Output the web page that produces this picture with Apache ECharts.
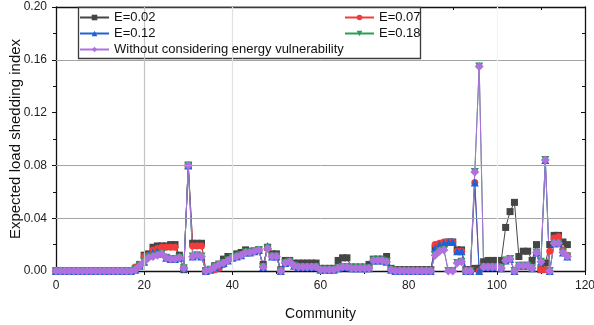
<!DOCTYPE html>
<html>
<head>
<meta charset="utf-8">
<script src="https://cdn.jsdelivr.net/npm/echarts@6/dist/echarts.min.js"></script>
<style>
  html, body { margin: 0; padding: 0; background: #fff; }
  #chart { width: 594px; height: 325px; }
</style>
</head>
<body>
<div id="chart"></div>
<script>
// Expected load shedding index per community, for several energy-vulnerability weights
const community = Array.from({ length: 117 }, (_, i) => i);

const e002 = [
  0,0,0,0,0,0,0,0,0,0, 0,0,0,0,0,0,0,0,0.002,0.005,
  0.012,0.013,0.018,0.019,0.019,0.019,0.020,0.020,0.012,0.001,
  0.080,0.021,0.021,0.021,0.000,0.001,0.004,0.005,0.009,0.011,
  0.011,0.013,0.014,0.016,0.015,0.015,0.016,0.005,0.018,0.013,
  0.013,0.001,0.008,0.008,0.006,0.006,0.006,0.006,0.006,0.006,
  0.002,0.002,0.002,0.002,0.008,0.010,0.010,0.003,0.003,0.003,
  0.003,0.005,0.009,0.009,0.009,0.011,0.002,0.001,0.001,0.001,
  0.001,0.001,0.001,0.001,0.001,0.001,0.017,0.020,0.021,0.022,
  0.022,0.016,0.016,0.001,0.001,0.002,0.002,0.007,0.008,0.008,
  0.008,0.008,0.033,0.045,0.052,0.011,0.015,0.015,0.008,0.020,
  0.001,0.006,0.020,0.027,0.027,0.022,0.020
];

const e007 = [
  0,0,0,0,0,0,0,0,0,0, 0,0,0,0,0,0,0,0,0.003,0.005,
  0.011,0.012,0.016,0.017,0.018,0.018,0.018,0.018,0.010,0.002,
  0.080,0.019,0.019,0.019,0.000,0.001,0.001,0.002,0.005,0.008,
  0.010,0.011,0.012,0.014,0.014,0.015,0.016,0.003,0.017,0.011,
  0.011,0.000,0.006,0.007,0.004,0.003,0.003,0.003,0.003,0.003,
  0.001,0.001,0.001,0.001,0.002,0.003,0.003,0.002,0.002,0.002,
  0.002,0.002,0.008,0.008,0.008,0.007,0.001,0.000,0.000,0.000,
  0.000,0.000,0.000,0.000,0.000,0.000,0.020,0.021,0.022,0.022,
  0.022,0.015,0.015,0.000,0.000,0.067,0.000,0.003,0.003,0.003,
  0.003,0.002,0.008,0.009,0.000,0.004,0.004,0.004,0.002,0.014,
  0.001,0.001,0.015,0.025,0.026,0.016,0.012
];

const e012 = [
  0,0,0,0,0,0,0,0,0,0, 0,0,0,0,0,0,0,0,0.001,0.004,
  0.007,0.012,0.014,0.015,0.013,0.010,0.009,0.009,0.010,0.002,
  0.080,0.011,0.012,0.011,0.000,0.001,0.003,0.005,0.006,0.008,
  0.010,0.011,0.012,0.014,0.014,0.015,0.016,0.003,0.019,0.011,
  0.011,0.000,0.006,0.007,0.004,0.003,0.003,0.003,0.003,0.003,
  0.001,0.001,0.001,0.001,0.002,0.003,0.003,0.002,0.002,0.002,
  0.002,0.002,0.008,0.008,0.008,0.007,0.001,0.000,0.000,0.000,
  0.000,0.000,0.000,0.000,0.000,0.000,0.017,0.020,0.021,0.022,
  0.022,0.015,0.015,0.000,0.000,0.067,0.000,0.003,0.003,0.003,
  0.003,0.002,0.008,0.009,0.000,0.004,0.004,0.004,0.002,0.014,
  0.007,0.084,0.000,0.021,0.021,0.014,0.011
];

const e018 = [
  0,0,0,0,0,0,0,0,0,0, 0,0,0,0,0,0,0,0,0.001,0.004,
  0.007,0.010,0.011,0.012,0.013,0.010,0.009,0.009,0.010,0.002,
  0.080,0.011,0.012,0.011,0.000,0.001,0.003,0.005,0.006,0.008,
  0.010,0.011,0.012,0.014,0.014,0.015,0.016,0.003,0.017,0.011,
  0.011,0.000,0.006,0.007,0.004,0.003,0.003,0.003,0.003,0.003,
  0.001,0.001,0.001,0.001,0.002,0.003,0.003,0.002,0.002,0.002,
  0.002,0.002,0.008,0.008,0.008,0.007,0.001,0.000,0.000,0.000,
  0.000,0.000,0.000,0.000,0.000,0.000,0.012,0.015,0.016,0.000,
  0.000,0.006,0.007,0.000,0.000,0.075,0.155,0.003,0.003,0.003,
  0.003,0.002,0.008,0.009,0.000,0.004,0.004,0.004,0.002,0.014,
  0.007,0.084,0.000,0.021,0.021,0.014,0.011
];

const noVulnerability = [
  0,0,0,0,0,0,0,0,0,0, 0,0,0,0,0,0,0,0,0.001,0.004,
  0.007,0.010,0.011,0.012,0.013,0.010,0.009,0.009,0.010,0.002,
  0.080,0.011,0.012,0.011,0.000,0.001,0.003,0.005,0.006,0.008,
  0.010,0.011,0.012,0.014,0.014,0.015,0.016,0.003,0.017,0.011,
  0.011,0.000,0.006,0.007,0.004,0.003,0.003,0.003,0.003,0.003,
  0.001,0.001,0.001,0.001,0.002,0.003,0.003,0.002,0.002,0.002,
  0.002,0.002,0.008,0.008,0.008,0.007,0.001,0.000,0.000,0.000,
  0.000,0.000,0.000,0.000,0.000,0.000,0.012,0.015,0.016,0.000,
  0.000,0.006,0.007,0.000,0.000,0.075,0.155,0.003,0.003,0.003,
  0.003,0.002,0.008,0.009,0.000,0.004,0.004,0.004,0.002,0.014,
  0.007,0.084,0.000,0.021,0.021,0.014,0.011
];

const seriesNames = ['E=0.02', 'E=0.07', 'E=0.12', 'E=0.18', 'Without considering energy vulnerability'];
const yTicks = [0, 0.04, 0.08, 0.12, 0.16, 0.20];
const xTicks = [0, 20, 40, 60, 80, 100, 120];

// partial reference lines inside the plot
const hGridValues = [0.04, 0.08, 0.16];
const vGridValues = [20, 40, 100];

const FONT = 'Liberation Sans, Arial, sans-serif';

function pairs(arr) { return arr.map((v, i) => [community[i], v]); }

function lineSeries(name, values, color, symbol, size, rotate) {
  return {
    name, type: 'line', data: pairs(values),
    symbol, symbolSize: size, symbolRotate: rotate || 0,
    showAllSymbol: true,
    lineStyle: { color, width: 1 },
    itemStyle: { color, borderWidth: 0 },
    emphasis: { disabled: true },
    animation: false, z: 3
  };
}

const vGridColors = ['#c4c4c4', '#e2e2e2', '#f4f4f4'];

const legendCommon = {
  orient: 'vertical', top: 10, padding: 0, itemGap: 1,
  itemWidth: 29, itemHeight: 7, z: 10, selectedMode: false,
  textStyle: { fontSize: 13, color: '#111', lineHeight: 15, fontFamily: FONT }
};

const option = {
  backgroundColor: '#ffffff',
  animation: false,
  textStyle: { fontFamily: FONT },
  grid: { left: 56, right: 9, top: 7, bottom: 54, containLabel: false, outerBoundsMode: 'none' },
  xAxis: [
    {
      type: 'value', min: xTicks[0], max: xTicks[xTicks.length - 1], interval: 20,
      name: 'Community', nameLocation: 'middle', nameGap: 36, nameMoveOverlap: false,
      nameTextStyle: { fontSize: 14, color: '#111', fontFamily: FONT },
      axisLine: { show: true, onZero: false, lineStyle: { color: '#111', width: 1.3 } },
      axisTick: { show: true, inside: false, length: 4, lineStyle: { color: '#111' } },
      minorTick: { show: true, splitNumber: 2, length: 3, lineStyle: { color: '#111' } },
      axisLabel: { fontSize: 12, color: '#222', margin: 9, fontFamily: FONT },
      splitLine: { show: false }
    },
    {
      type: 'value', position: 'top', min: 0, max: 120, interval: 20,
      axisLine: { show: true, onZero: false, lineStyle: { color: '#111', width: 1.3 } },
      axisTick: { show: true, inside: true, length: 4, lineStyle: { color: '#111' } },
      minorTick: { show: true, splitNumber: 2, length: 3, lineStyle: { color: '#111' } },
      axisLabel: { show: false }, splitLine: { show: false }
    }
  ],
  yAxis: [
    {
      type: 'value', min: yTicks[0], max: yTicks[yTicks.length - 1], interval: 0.04,
      name: 'Expected load shedding index', nameLocation: 'middle', nameGap: 33, nameMoveOverlap: false,
      nameTextStyle: { fontSize: 15, color: '#111', fontFamily: FONT },
      axisLine: { show: true, onZero: false, lineStyle: { color: '#111', width: 1.3 } },
      axisTick: { show: true, inside: false, length: 4, lineStyle: { color: '#111' } },
      minorTick: { show: true, splitNumber: 2, length: 3, lineStyle: { color: '#111' } },
      axisLabel: { fontSize: 12, color: '#222', margin: 9, fontFamily: FONT,
        formatter: v => v.toFixed(2) },
      splitLine: { show: false }
    },
    {
      type: 'value', position: 'right', min: 0, max: 0.2, interval: 0.04,
      axisLine: { show: true, onZero: false, lineStyle: { color: '#111', width: 1.3 } },
      axisTick: { show: true, inside: true, length: 4, lineStyle: { color: '#111' } },
      minorTick: { show: true, splitNumber: 2, length: 3, lineStyle: { color: '#111' } },
      axisLabel: { show: false }, splitLine: { show: false }
    }
  ],
  graphic: [
    {
      type: 'rect', z: 3, silent: true,
      shape: { x: 78.5, y: 7.5, width: 342, height: 51 },
      style: { fill: '#ffffff', stroke: '#3a3a3a', lineWidth: 1.3 }
    }
  ],
  legend: [
    Object.assign({ data: [seriesNames[0], seriesNames[2], seriesNames[4]], left: 79 }, legendCommon),
    Object.assign({ data: [seriesNames[1], seriesNames[3]], left: 344 }, legendCommon)
  ],
  series: [
    {
      type: 'line', data: [], silent: true, z: 1,
      markLine: {
        silent: true, symbol: 'none', label: { show: false }, animation: false,
        data: hGridValues.map(v => ({ yAxis: v, lineStyle: { color: '#a3a3a3', width: 1, type: 'solid' } }))
          .concat(vGridValues.map((v, i) => ({ xAxis: v, lineStyle: { color: vGridColors[i], width: 1.2, type: 'solid' } })))
      }
    },
    lineSeries(seriesNames[0], e002, '#454545', 'rect', 7),
    lineSeries(seriesNames[1], e007, '#f23b3b', 'circle', 7),
    lineSeries(seriesNames[2], e012, '#1f62d8', 'triangle', 8),
    lineSeries(seriesNames[3], e018, '#2a9e55', 'triangle', 8, 180),
    lineSeries(seriesNames[4], noVulnerability, '#b071e0', 'diamond', 9)
  ]
};

const chart = echarts.init(document.getElementById('chart'), null, { renderer: 'canvas' });
chart.setOption(option);
</script>
</body>
</html>
